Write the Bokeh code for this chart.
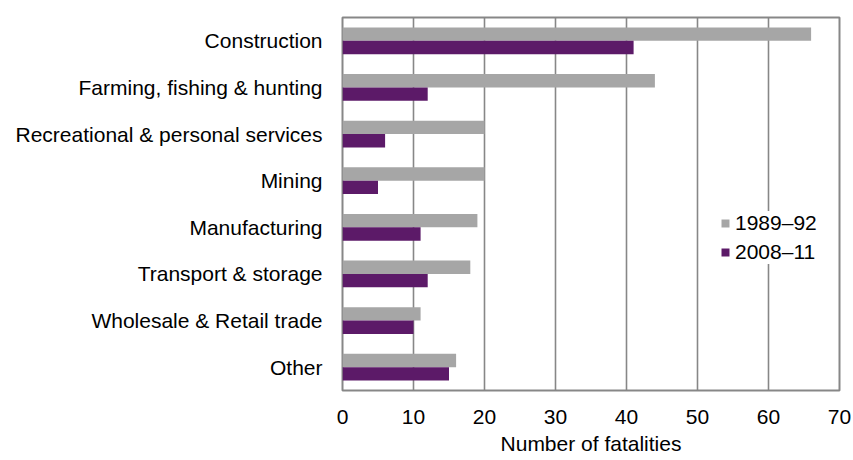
from bokeh.plotting import figure
from bokeh.models import ColumnDataSource, FactorRange, Legend, LegendItem, FixedTicker
from bokeh.transform import dodge
from bokeh.embed import file_html
from bokeh.resources import INLINE

categories = ["Construction", "Farming, fishing & hunting", "Recreational & personal services",
              "Mining", "Manufacturing", "Transport & storage", "Wholesale & Retail trade", "Other"]
series_names = ["1989\u201392", "2008\u201311"]
values_1989_92 = [66, 44, 20, 20, 19, 18, 11, 16]
values_2008_11 = [41, 12, 6, 5, 11, 12, 10, 15]
x_ticks = [0, 10, 20, 30, 40, 50, 60, 70]

FONT = "Liberation Sans"
GREY = "#A6A6A6"
PURPLE = "#5C1A68"
LINE = "#878787"

source = ColumnDataSource(dict(cat=categories, a=values_1989_92, b=values_2008_11))

p = figure(frame_width=497, frame_height=373, output_backend="svg", toolbar_location=None,
           y_range=FactorRange(factors=list(reversed(categories))),
           x_range=(0, 70),
           min_border_left=342, min_border_right=12, min_border_top=17, min_border_bottom=66)

r1 = p.hbar(y=dodge("cat", 0.143, range=p.y_range), right="a", left=0, height=0.286,
            source=source, fill_color=GREY, line_color=None)
r2 = p.hbar(y=dodge("cat", -0.143, range=p.y_range), right="b", left=0, height=0.286,
            source=source, fill_color=PURPLE, line_color=None)

p.outline_line_color = LINE
p.outline_line_width = 2
p.ygrid.grid_line_color = None
p.xgrid.grid_line_color = LINE
p.xgrid.grid_line_width = 1.6
p.xaxis.ticker = FixedTicker(ticks=x_ticks)

for ax in (p.xaxis[0], p.yaxis[0]):
    ax.axis_line_color = None
    ax.major_tick_line_color = None
    ax.minor_tick_line_color = None
    ax.major_label_text_font = FONT
    ax.major_label_text_font_size = "21px"
    ax.major_label_text_color = "#000000"

p.yaxis.major_label_standoff = 14
p.xaxis.major_label_standoff = 13
p.xaxis.axis_label = "Number of fatalities"
p.xaxis.axis_label_text_font = FONT
p.xaxis.axis_label_text_font_size = "21px"
p.xaxis.axis_label_text_font_style = "normal"
p.xaxis.axis_label_text_color = "#000000"
p.xaxis.axis_label_standoff = 5

legend = Legend(items=[LegendItem(label=series_names[0], renderers=[r1]),
                       LegendItem(label=series_names[1], renderers=[r2])],
                location=(378, 126), padding=6, margin=0, spacing=5,
                glyph_width=10, glyph_height=10, label_standoff=5,
                label_text_font=FONT, label_text_font_size="21px",
                label_text_color="#000000",
                border_line_color=None, background_fill_color="white", background_fill_alpha=1)
p.add_layout(legend, "center")

open("out.html", "w").write(file_html(p, INLINE))
